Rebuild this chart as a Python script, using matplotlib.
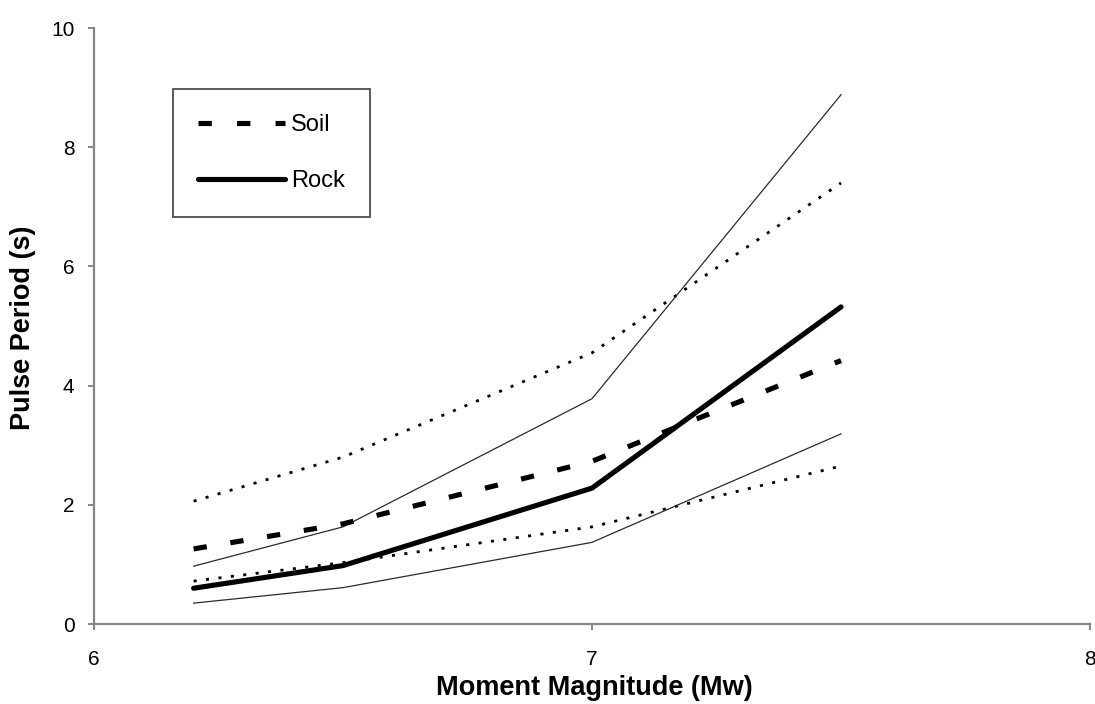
import matplotlib
matplotlib.use("Agg")
import matplotlib.pyplot as plt
from matplotlib.lines import Line2D

plt.rcParams['font.family'] = ['Liberation Sans', 'DejaVu Sans']

# magnitudes where pulse periods were evaluated
mw = [6.2, 6.5, 7.0, 7.5]

# soil sites: median and +/- one standard deviation
soil_median = [1.26, 1.68, 2.73, 4.42]
soil_upper = [2.06, 2.80, 4.55, 7.40]
soil_lower = [0.72, 1.03, 1.63, 2.65]

# rock sites: median and +/- one standard deviation
rock_median = [0.60, 0.98, 2.28, 5.32]
rock_upper = [0.97, 1.63, 3.78, 8.88]
rock_lower = [0.35, 0.61, 1.37, 3.19]

W, H = 1095, 704
fig = plt.figure(figsize=(W / 100, H / 100), dpi=100)
ax = fig.add_axes([94 / W, 1 - 624 / H, 996 / W, 596 / H])

thick = 3.7
dash = (0, (2.59, 4.655))
dot = (0, (1.1, 3.4))

ax.plot(mw, soil_upper, color='black', lw=2.0, linestyle=dot, dash_capstyle='butt')
ax.plot(mw, soil_lower, color='black', lw=2.0, linestyle=dot, dash_capstyle='butt')
ax.plot(mw, rock_upper, color='#2a2a2a', lw=0.9)
ax.plot(mw, rock_lower, color='#2a2a2a', lw=0.9)
ax.plot(mw, soil_median, color='black', lw=thick, linestyle=dash, dash_capstyle='butt')
ax.plot(mw, rock_median, color='black', lw=thick, solid_capstyle='round')

ax.set_xlim(6, 8)
ax.set_ylim(0, 10)
ax.set_xticks([6, 7, 8])
ax.set_yticks([0, 2, 4, 6, 8, 10])

for side in ['top', 'right']:
    ax.spines[side].set_visible(False)
for side in ['left', 'bottom']:
    ax.spines[side].set_color('#858585')
    ax.spines[side].set_linewidth(1.6)
ax.tick_params(axis='both', direction='out', length=4, width=1.4,
               color='#858585', labelsize=15)
ax.tick_params(axis='x', pad=15)
ax.tick_params(axis='y', pad=10)

fig.text(594 / W, 1 - 688 / H, 'Moment Magnitude (Mw)', ha='center', va='center',
         fontsize=19.5, fontweight='bold')
fig.text(23 / W, 1 - 328 / H, 'Pulse Period (s)', ha='center', va='center',
         rotation=90, fontsize=19.5, fontweight='bold')

handles = [
    Line2D([], [], color='black', lw=thick, linestyle=(0, (2.6, 4.9)), dash_capstyle='butt'),
    Line2D([], [], color='black', lw=thick, solid_capstyle='round'),
]
leg = ax.legend(handles, ['Soil', 'Rock'], loc='upper left',
                bbox_to_anchor=(79 / 996, (624 - 89) / 596), fontsize=17,
                handlelength=3.7, handletextpad=0.25, labelspacing=1.45,
                borderpad=1.05, borderaxespad=0, fancybox=False,
                edgecolor='#5a5a5a', framealpha=1)
leg.get_frame().set_linewidth(1.4)

fig.savefig('out.png', dpi=100)
